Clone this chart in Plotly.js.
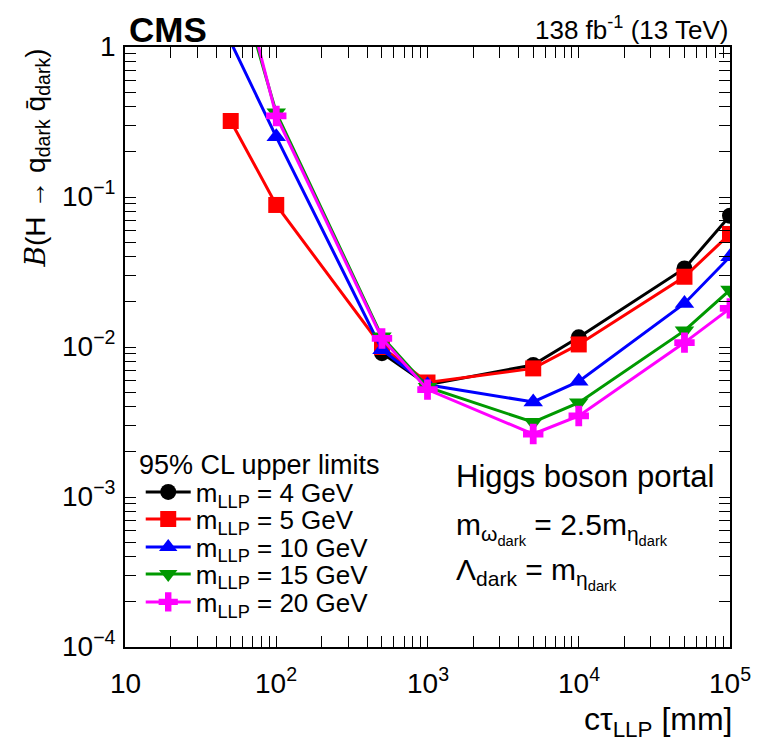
<!DOCTYPE html>
<html>
<head>
<meta charset="utf-8">
<script src="https://cdn.plot.ly/plotly-3.0.1.min.js"></script>
<style>html,body{margin:0;padding:0;background:#fff;}#chart{width:770px;height:743px;}</style>
</head>
<body>
<div id="chart"></div>
<script>
// c*tau values (mm)
const ctau = [50, 100, 500, 1000, 5000, 10000, 50000, 100000];
// 95% CL upper limits on branching fraction
const lim4  = [null, null, 0.0091, 0.0056, 0.0076, 0.0116, 0.0334, 0.075];
const lim5  = [0.321, 0.0885, 0.0100, 0.0058, 0.0072, 0.0104, 0.0294, 0.0567];
const lim10 = [1.08, 0.252, 0.0096, 0.0056, 0.0043, 0.0059, 0.0195, 0.040];
const lim15 = [4.1, 0.365, 0.0117, 0.0054, 0.00315, 0.00425, 0.01285, 0.024];
const lim20 = [5.3, 0.347, 0.0114, 0.0052, 0.00263, 0.00347, 0.0107, 0.0181];
const seriesNames = ["m<sub>LLP</sub> = 4 GeV", "m<sub>LLP</sub> = 5 GeV", "m<sub>LLP</sub> = 10 GeV", "m<sub>LLP</sub> = 15 GeV", "m<sub>LLP</sub> = 20 GeV"];
const xTickVals = [10, 100, 1000, 10000, 100000];
const xTickText = ["10", "10<sup>2</sup>", "10<sup>3</sup>", "10<sup>4</sup>", "10<sup>5</sup>"];
const yTickVals = [1e-4, 1e-3, 1e-2, 1e-1, 1];
const yTickText = ["10<sup>−4</sup>", "10<sup>−3</sup>", "10<sup>−2</sup>", "10<sup>−1</sup>", "1"];

function minorVals(lo, hi) {
  const v = [];
  for (let d = lo; d < hi; d++) {
    for (let k = 2; k <= 9; k++) v.push(k * Math.pow(10, d));
  }
  return v;
}

const styles = [
  {color: "#000000", symbol: "circle", size: 16},
  {color: "#ff0000", symbol: "square", size: 16},
  {color: "#0000ff", symbol: "triangle-up", size: 17},
  {color: "#009900", symbol: "triangle-down", size: 17},
  {color: "#ff00ff", symbol: "cross", size: 17}
];
const allLims = [lim4, lim5, lim10, lim15, lim20];
const legendIds = ["legend", "legend2", "legend3", "legend4", "legend5"];

const traces = allLims.map((ys, i) => ({
  x: ctau, y: ys, type: "scatter", mode: "lines+markers",
  name: seriesNames[i],
  legend: legendIds[i],
  line: {color: styles[i].color, width: 3},
  marker: {color: styles[i].color, symbol: styles[i].symbol, size: styles[i].size, line: {width: 0}},
  connectgaps: false,
  cliponaxis: true
}));

const FONT = "Liberation Sans, Arial, Helvetica, sans-serif";

const rowY = [0.2583, 0.2133, 0.1667, 0.1217, 0.075];
function legendAt(y) {
  return {
    x: 0.026, y: y, xanchor: "left", yanchor: "middle",
    bgcolor: "rgba(0,0,0,0)", borderwidth: 0,
    font: {family: FONT, size: 26, color: "#000"},
    itemwidth: 45
  };
}

// tick labels placed through the axes' own scales
const tickAnns = [];
xTickVals.forEach((v, i) => tickAnns.push({
  text: xTickText[i], xref: "x", yref: "paper", x: Math.log10(v), y: -0.09,
  xanchor: "center", yanchor: "bottom", showarrow: false, font: {family: FONT, size: 28}
}));
yTickVals.forEach((v, i) => tickAnns.push({
  text: yTickText[i], xref: "paper", yref: "y", x: -0.012, y: Math.log10(v),
  xanchor: "right", yanchor: "bottom", yshift: -17, showarrow: false, font: {family: FONT, size: 28}
}));

const layout = {
  width: 770, height: 743,
  margin: {l: 125, r: 40, t: 47, b: 96},
  paper_bgcolor: "#ffffff", plot_bgcolor: "#ffffff",
  font: {family: FONT, color: "#000", size: 22},
  showlegend: true,
  legend: legendAt(rowY[0]),
  legend2: legendAt(rowY[1]),
  legend3: legendAt(rowY[2]),
  legend4: legendAt(rowY[3]),
  legend5: legendAt(rowY[4]),
  xaxis: {
    type: "log", range: [1, 5], tickvals: xTickVals.concat(minorVals(1, 5)), showticklabels: false,
    ticks: "inside", ticklen: 11, tickwidth: 1, tickcolor: "#000",
    showline: true, linewidth: 2, linecolor: "#000", mirror: "allticks",
    showgrid: false, zeroline: false
  },
  yaxis: {
    type: "log", range: [-4, 0], tickvals: yTickVals.concat(minorVals(-4, 0)), showticklabels: false,
    ticks: "inside", ticklen: 11, tickwidth: 1, tickcolor: "#000",
    showline: true, linewidth: 2, linecolor: "#000", mirror: "allticks",
    showgrid: false, zeroline: false
  },
  annotations: tickAnns.concat([
    {text: "<b>CMS</b>", xref: "paper", yref: "paper", x: 0.003, y: 1.0, xanchor: "left", yanchor: "bottom",
     showarrow: false, font: {family: FONT, size: 35}, yshift: -4},
    {text: "138 fb<sup>-1</sup> (13 TeV)", xref: "paper", yref: "paper", x: 1.0, y: 1.0, xanchor: "right", yanchor: "bottom",
     showarrow: false, font: {family: FONT, size: 26}},
    {text: "<span style=\"font-family:'DejaVu Serif'\"><i>B</i></span>(H → q<sub>dark</sub> q̄<sub>dark</sub>)",
     xref: "paper", yref: "paper", x: -0.147, y: 1.0, xanchor: "center", yanchor: "top",
     textangle: -90, showarrow: false, font: {family: FONT, size: 28}},
    {text: "cτ<sub>LLP</sub> [mm]", xref: "paper", yref: "paper", x: 1.006, y: -0.086, xanchor: "right", yanchor: "top",
     showarrow: false, font: {family: FONT, size: 32}},
    {text: "95% CL upper limits", xref: "paper", yref: "paper", x: 0.02, y: 0.303, xanchor: "left", yanchor: "middle",
     showarrow: false, font: {family: FONT, size: 27}},
    {text: "Higgs boson portal", xref: "paper", yref: "paper", x: 0.543, y: 0.284, xanchor: "left", yanchor: "middle",
     showarrow: false, font: {family: FONT, size: 31}},
    {text: "m<sub>ω<sub>dark</sub></sub> = 2.5m<sub>η<sub>dark</sub></sub>", xref: "paper", yref: "paper", x: 0.543, y: 0.198, xanchor: "left", yanchor: "middle",
     showarrow: false, font: {family: FONT, size: 30}},
    {text: "Λ<sub>dark</sub> = m<sub>η<sub>dark</sub></sub>", xref: "paper", yref: "paper", x: 0.543, y: 0.123, xanchor: "left", yanchor: "middle",
     showarrow: false, font: {family: FONT, size: 30}}
  ])
};

Plotly.newPlot("chart", traces, layout, {staticPlot: true});
</script>
</body>
</html>
